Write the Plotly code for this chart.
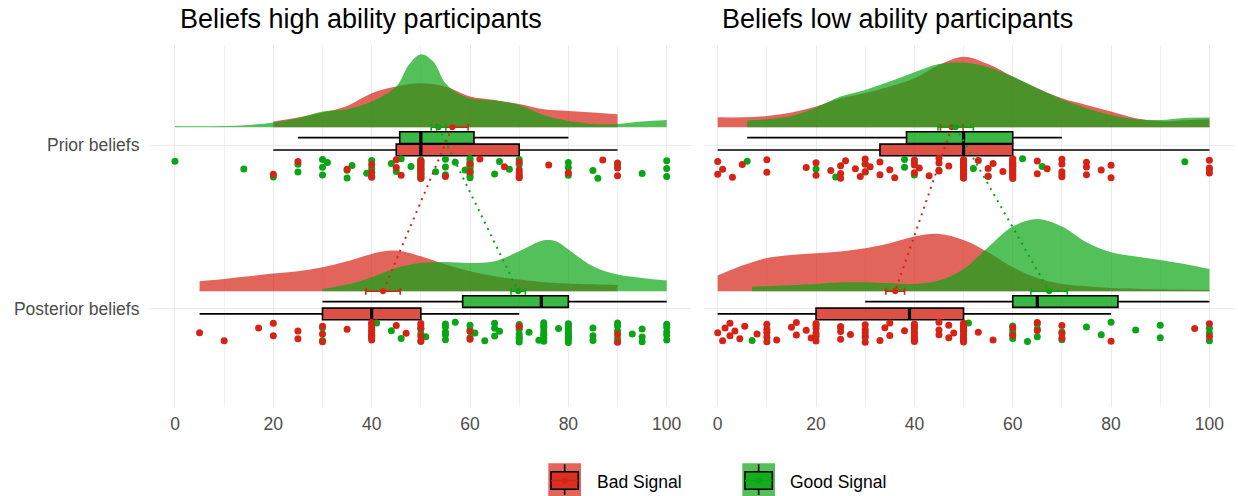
import plotly.graph_objects as go

# ---------------- DATA ----------------
panel_titles = ["Beliefs high ability participants", "Beliefs low ability participants"]
stage_labels = ["Posterior beliefs", "Prior beliefs"]
stage_values = [1, 2]
signal_names = ["Bad Signal", "Good Signal"]
x_tick_values = [0, 20, 40, 60, 80, 100]
x_tick_labels = ["0", "20", "40", "60", "80", "100"]
x_minor_values = [10, 30, 50, 70, 90]

# individual responses
high_prior_bad = [20, 25, 35, 40, 40, 40, 45, 45, 46, 50, 50, 50, 50, 50, 50, 50, 55, 60, 60, 62,
                  67, 70, 70, 70, 70, 76, 80, 87, 90, 90, 90]
high_prior_good = [0, 14, 20, 25, 25, 30, 30, 30, 31, 35, 35, 36, 39, 40, 40, 40, 44, 45, 46, 48,
                   50, 50, 50, 50, 50, 50, 50, 50, 50, 50, 50, 50, 50, 50, 50, 50, 50, 50,
                   53, 55, 55, 55, 57, 59, 60, 60, 60, 60, 60, 60, 60, 60, 60, 60,
                   65, 66, 68, 70, 70, 70, 70, 80, 80, 80, 85, 86, 90, 95, 100, 100, 100]
high_post_bad = [5, 10, 17, 20, 20, 25, 25, 30, 30, 30, 35, 40, 40, 40, 40, 40, 40, 40, 40, 40,
                 45, 47, 50, 50, 50, 50, 60, 60, 70, 90, 90]
high_post_good = [30, 30, 40, 41, 44, 46, 50, 50, 50, 50, 51, 55, 55, 55, 55, 55, 57, 60, 60, 60,
                  61, 63, 65, 65, 65, 66, 70, 70, 70, 70, 70, 70, 70, 72, 74, 75, 75, 75, 75, 75,
                  75, 75, 75, 78, 80, 80, 80, 80, 80, 80, 80, 80, 80, 80, 80, 85, 85, 85, 90, 90,
                  90, 90, 93, 95, 95, 95, 100, 100, 100, 100, 100]
low_prior_bad = [0, 0, 1, 3, 5, 10, 10, 18, 20, 20, 23, 25, 25, 25, 26, 28, 29, 30, 30, 30, 31, 33,
                 33, 35, 36, 40, 40, 40, 41, 43, 45, 45, 45, 47, 50, 50, 50, 50, 50, 50, 50, 50, 50,
                 50, 50, 50, 50, 50, 53, 55, 55, 56, 58, 60, 60, 60, 60, 60, 60, 60, 60, 60, 60, 60,
                 60, 60, 60, 60, 65, 65, 67, 70, 70, 70, 70, 75, 75, 75, 78, 80, 80, 100, 100, 100]
low_prior_good = [6, 20, 24, 30, 30, 38, 38, 40, 40, 45, 50, 50, 50, 50, 52, 55, 60, 60, 62, 66,
                  70, 95, 100]
low_post_bad = [0, 1, 1.5, 2.5, 2.5, 3.5, 4.5, 5.5, 8, 10, 10, 10, 10, 10, 12, 15, 16, 16, 18, 19,
                20, 20, 20, 20, 20, 20, 25, 25, 25, 27, 30, 30, 30, 30, 30, 33, 34, 35, 35, 38,
                40, 40, 40, 40, 40, 40, 40, 40, 40, 40, 45, 45, 45, 47, 47, 48,
                50, 50, 50, 50, 50, 50, 50, 50, 50, 50, 50, 50,
                53, 56, 60, 60, 65, 65, 70, 70, 70, 80, 97, 100, 100]
low_post_good = [7, 25, 30, 51, 60, 60, 60, 60, 63, 65, 65, 65, 70, 70, 75, 78, 80, 85, 90, 90,
                 100, 100, 100]

# box statistics: q1, median, q3, lower whisker, upper whisker
high_prior_bad_box = [45, 50, 70, 20, 90]
high_prior_good_box = [45.7, 50, 60.8, 25, 80]
high_post_bad_box = [30, 40, 50, 5, 70]
high_post_good_box = [58.5, 74.5, 80, 30, 100]
low_prior_bad_box = [33, 50, 60, 0, 100]
low_prior_good_box = [38.4, 50, 60, 6, 70]
low_post_bad_box = [20, 39, 50, 0, 80]
low_post_good_box = [60, 65, 81.4, 30, 100]

# mean and CI half-width
high_prior_bad_mean = [56.4, 3.2]
high_prior_good_mean = [53.6, 1.5]
high_post_bad_mean = [42.3, 3.5]
high_post_good_mean = [69.8, 1.45]
low_prior_bad_mean = [47.6, 2.3]
low_prior_good_mean = [48.4, 3.6]
low_post_bad_mean = [36.1, 1.9]
low_post_good_mean = [67.4, 3.7]

# density curves (x grid, relative height)
high_prior_bad_dx = [20, 25, 30, 35, 40, 45, 50, 55, 60, 65, 70, 75, 80, 85, 90]
high_prior_bad_dy = [5.7, 9.7, 14.7, 21.3, 34, 40.7, 44, 40.7, 30.7, 27.3, 23.3, 18, 16.3, 14.7, 13]
high_prior_good_dx = [0, 5, 10, 15, 20, 25, 30, 35, 40, 45, 47.5, 50, 52.5, 55, 57.5, 60, 65, 70,
                      75, 80, 85, 90, 95, 100]
high_prior_good_dy = [1.3, 1, 1.3, 2.3, 4.7, 9, 15.7, 18, 25.7, 40.7, 62, 73, 65.7, 44, 34, 29,
                      26.7, 22.3, 12.3, 6.3, 3.3, 3.3, 5.7, 7.3]
high_post_bad_dx = [5, 10, 15, 20, 25, 30, 35, 40, 42.5, 45, 50, 55, 60, 65, 70, 75, 80, 85, 90]
high_post_bad_dy = [10, 12.3, 15, 17.7, 20, 24, 30, 37.3, 40, 40.7, 35, 26.7, 20, 15, 11.7, 9, 7.7,
                    7, 6.3]
high_post_good_dx = [30, 35, 40, 45, 50, 55, 60, 65, 70, 75, 77.5, 80, 85, 90, 95, 100]
high_post_good_dy = [2.3, 6.7, 14, 23.3, 28.3, 29.3, 28.3, 30, 40, 51, 50, 41.7, 25, 16.7, 13.3, 10.7]
low_prior_bad_dx = [0, 5, 10, 15, 20, 25, 30, 35, 40, 45, 50, 55, 60, 65, 70, 75, 80, 85, 90, 95, 100]
low_prior_bad_dy = [10, 10, 11.3, 14.7, 20.7, 29, 34, 40.7, 49, 62.3, 70.7, 63.3, 50.7, 39, 29,
                    22.3, 15.7, 9, 6, 7, 8]
low_prior_good_dx = [6, 10, 15, 20, 25, 30, 35, 40, 45, 50, 55, 60, 65, 70, 75, 80, 85, 90, 95, 100]
low_prior_good_dy = [6.7, 8, 11.3, 19.7, 30.7, 37.3, 45.7, 55, 63.3, 64.7, 60, 50.7, 39, 28, 19,
                     12.3, 8, 7.3, 9.3, 9.7]
low_post_bad_dx = [0, 5, 10, 15, 20, 25, 30, 35, 40, 45, 50, 55, 60, 65, 70, 75, 80, 90, 100]
low_post_bad_dy = [15.7, 25.7, 33.3, 36.3, 38, 39.7, 43, 48, 54.7, 57.3, 51.3, 39, 24, 13.3, 7.3, 5,
                   3.3, 2, 1.3]
low_post_good_dx = [7, 10, 20, 25, 30, 35, 40, 45, 50, 55, 60, 65, 70, 75, 80, 85, 90, 95, 100]
low_post_good_dy = [4.7, 5, 7.3, 8.7, 9, 8, 7.3, 10.7, 22.3, 44, 64.7, 72.3, 64.7, 49, 39, 34.7,
                    31.3, 27.3, 22.3]

# ---------------- STYLE ----------------
W, H = 1238, 496
FONT = "Liberation Sans, Arial, sans-serif"
COL = {"Bad Signal": (214, 35, 22), "Good Signal": (10, 165, 20)}


def rgba(c, a):
    return "rgba(%d,%d,%d,%s)" % (c[0], c[1], c[2], a)


DENS_SCALE = 1 / 164.0
BASE_OFF = 0.108       # density baseline above category
BOX_OFF = {"Good Signal": 0.045, "Bad Signal": -0.030}
BOX_W = 0.071
PT_OFF = -0.143
PT_BAND = 0.125        # vertical jitter band for the dots
GOLD = 0.6180339887


def jitter_offsets(n, seed):
    # deterministic, evenly spread vertical jitter (low-discrepancy sequence)
    return [((seed + i * GOLD) % 1.0 - 0.5) * PT_BAND for i in range(n)]


groups = {
    0: {
        2: {"Bad Signal": (high_prior_bad, high_prior_bad_box, high_prior_bad_mean, high_prior_bad_dx, high_prior_bad_dy),
            "Good Signal": (high_prior_good, high_prior_good_box, high_prior_good_mean, high_prior_good_dx, high_prior_good_dy)},
        1: {"Bad Signal": (high_post_bad, high_post_bad_box, high_post_bad_mean, high_post_bad_dx, high_post_bad_dy),
            "Good Signal": (high_post_good, high_post_good_box, high_post_good_mean, high_post_good_dx, high_post_good_dy)},
    },
    1: {
        2: {"Bad Signal": (low_prior_bad, low_prior_bad_box, low_prior_bad_mean, low_prior_bad_dx, low_prior_bad_dy),
            "Good Signal": (low_prior_good, low_prior_good_box, low_prior_good_mean, low_prior_good_dx, low_prior_good_dy)},
        1: {"Bad Signal": (low_post_bad, low_post_bad_box, low_post_bad_mean, low_post_bad_dx, low_post_bad_dy),
            "Good Signal": (low_post_good, low_post_good_box, low_post_good_mean, low_post_good_dx, low_post_good_dy)},
    },
}

fig = go.Figure()

for p in (0, 1):
    xa = "x" if p == 0 else "x2"
    ya = "y" if p == 0 else "y2"
    common = dict(xaxis=xa, yaxis=ya, showlegend=False, hoverinfo="skip")
    g = groups[p]
    # densities
    for stage in stage_values:
        base = stage + BASE_OFF
        for sig in signal_names:
            dx, dy = g[stage][sig][3], g[stage][sig][4]
            fig.add_trace(go.Scatter(x=dx, y=[base for _ in dx], mode="lines",
                                     line=dict(width=0, color="rgba(0,0,0,0)"), **common))
            fig.add_trace(go.Scatter(x=dx, y=[base + h * DENS_SCALE for h in dy], mode="lines",
                                     line=dict(width=0, color="rgba(0,0,0,0)", shape="spline", smoothing=1),
                                     fill="tonexty", fillcolor=rgba(COL[sig], 0.7), **common))
    # boxes
    for stage in stage_values:
        for sig in ["Good Signal", "Bad Signal"]:
            b = g[stage][sig][1]
            pos = stage + BOX_OFF[sig]
            fig.add_trace(go.Box(y=[pos], q1=[b[0]], median=[b[1]], q3=[b[2]],
                                 lowerfence=[b[3]], upperfence=[b[4]], orientation="h",
                                 width=BOX_W, whiskerwidth=0, boxpoints=False,
                                 fillcolor=rgba(COL[sig], 0.8),
                                 line=dict(color="black", width=1.6), **common))
            fig.add_trace(go.Scatter(x=[b[1], b[1]], y=[pos - BOX_W / 2, pos + BOX_W / 2],
                                     mode="lines", line=dict(color="black", width=3.2), **common))
    # points
    seed = 0.11
    for stage in stage_values:
        for sig in ["Good Signal", "Bad Signal"]:
            vals = g[stage][sig][0]
            offs = jitter_offsets(len(vals), seed)
            seed += 0.37
            fig.add_trace(go.Scatter(x=vals, y=[stage + PT_OFF + o for o in offs], mode="markers",
                                     marker=dict(color=rgba(COL[sig], 1), size=7), **common))
    # means with CI and connecting dotted lines
    for sig in signal_names:
        pm = g[2][sig][2]
        qm = g[1][sig][2]
        fig.add_trace(go.Scatter(x=[pm[0], qm[0]], y=[2 + BASE_OFF, 1 + BASE_OFF], mode="lines",
                                 line=dict(color=rgba(COL[sig], 1), width=2, dash="2px,5px"), **common))
        for stage in stage_values:
            m = g[stage][sig][2]
            fig.add_trace(go.Scatter(x=[m[0]], y=[stage + BASE_OFF], mode="markers",
                                     marker=dict(color=rgba(COL[sig], 1), size=6),
                                     error_x=dict(type="data", array=[m[1]], color=rgba(COL[sig], 1),
                                                  thickness=1.6, width=3.5), **common))


def px(x):
    return x / W


def py(y):
    return 1 - y / H


axis_common = dict(showline=False, zeroline=False, ticks="",
                   tickfont=dict(family=FONT, size=17.5, color="#4D4D4D"),
                   gridcolor="#EBEBEB", gridwidth=1.4)
xaxis = dict(axis_common, range=[-5, 105], domain=[px(150.4), px(691.3)],
             tickvals=x_tick_values, ticktext=x_tick_labels, ticklabelstandoff=5,
             minor=dict(tickvals=x_minor_values, showgrid=True, gridcolor="#F1F1F1", gridwidth=1),
             anchor="y")
xaxis2 = dict(xaxis, range=[-2.58, 105], domain=[px(705), px(1234)], anchor="y2")
yaxis = dict(axis_common, range=[0.404, 2.610], domain=[py(406.7), py(45)],
             tickvals=stage_values, ticktext=stage_labels, ticklabelstandoff=10, anchor="x")
yaxis2 = dict(yaxis, showticklabels=False, anchor="x2")

shapes = []
annotations = [
    dict(text=panel_titles[0], x=px(178), y=py(19), xref="paper", yref="paper", xanchor="left",
         yanchor="middle", showarrow=False, font=dict(family=FONT, size=27, color="black")),
    dict(text=panel_titles[1], x=px(720), y=py(19), xref="paper", yref="paper", xanchor="left",
         yanchor="middle", showarrow=False, font=dict(family=FONT, size=27, color="black")),
]

for sig, kx, tx in [("Bad Signal", 548.3, 595), ("Good Signal", 742.3, 788.3)]:
    c = COL[sig]
    top, bot = 463.3, 496
    cx = kx + 16.35
    shapes.append(dict(type="rect", xref="paper", yref="paper", x0=px(kx), x1=px(kx + 32.7),
                       y0=py(bot), y1=py(top), fillcolor=rgba(c, 0.7), line=dict(width=0)))
    shapes.append(dict(type="line", xref="paper", yref="paper", x0=px(cx), x1=px(cx),
                       y0=py(top + 1), y1=py(471.7), line=dict(color="black", width=1.6)))
    shapes.append(dict(type="line", xref="paper", yref="paper", x0=px(cx), x1=px(cx),
                       y0=py(489.3), y1=py(bot - 1), line=dict(color="black", width=1.6)))
    shapes.append(dict(type="rect", xref="paper", yref="paper", x0=px(kx + 2.7), x1=px(kx + 30),
                       y0=py(489.3), y1=py(471.7), fillcolor=rgba(c, 0.8),
                       line=dict(color="black", width=1.6)))
    shapes.append(dict(type="line", xref="paper", yref="paper", x0=px(kx + 2.7), x1=px(kx + 30),
                       y0=py(480.5), y1=py(480.5), line=dict(color=rgba(c, 1), width=1.6)))
    shapes.append(dict(type="circle", xref="paper", yref="paper", x0=px(cx - 3), x1=px(cx + 3),
                       y0=py(483.5), y1=py(477.5), fillcolor=rgba(c, 1), line=dict(width=0)))
    annotations.append(dict(text=sig, x=px(tx), y=py(481.7), xref="paper", yref="paper",
                            xanchor="left", yanchor="middle", showarrow=False,
                            font=dict(family=FONT, size=17.5, color="black")))

fig.update_layout(width=W, height=H, margin=dict(l=0, r=0, t=0, b=0),
                  plot_bgcolor="white", paper_bgcolor="white", boxmode="overlay",
                  xaxis=xaxis, xaxis2=xaxis2, yaxis=yaxis, yaxis2=yaxis2,
                  shapes=shapes, annotations=annotations, showlegend=False)

fig.write_html("out.html", config={"displayModeBar": False},
               post_script="document.body.style.margin='0px';")
